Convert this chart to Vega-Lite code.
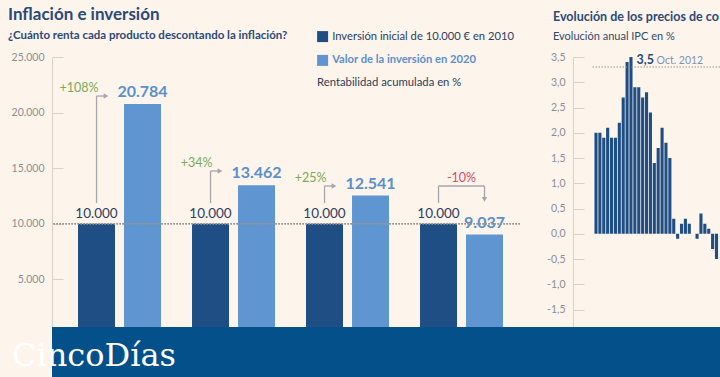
{
  "$schema": "https://vega.github.io/schema/vega-lite/v6.json",
  "background": "#fdf4ec",
  "padding": {"left": 0, "top": 6, "right": 0, "bottom": 0},
  "spacing": 0,
  "config": {
    "font": "Lato",
    "view": {"stroke": null},
    "locale": {"number": {"decimal": ",", "thousands": ".", "grouping": [3], "currency": ["", " €"], "minus": "-"}},
    "axis": {"labelFont": "Lato", "titleFont": "Lato"},
    "title": {"font": "Lato", "subtitleFont": "Lato"},
    "legend": {"labelFont": "Lato", "titleFont": "Lato"},
    "style": {"group-title": {"ellipsis": "\u200b"}}
  },
  "datasets": {
    "inversion": [
      {"producto": "Producto 1", "serie": "Inversión inicial de 10.000 € en 2010", "valor": 10000},
      {"producto": "Producto 1", "serie": "Valor de la inversión en 2020", "valor": 20784},
      {"producto": "Producto 2", "serie": "Inversión inicial de 10.000 € en 2010", "valor": 10000},
      {"producto": "Producto 2", "serie": "Valor de la inversión en 2020", "valor": 13462},
      {"producto": "Producto 3", "serie": "Inversión inicial de 10.000 € en 2010", "valor": 10000},
      {"producto": "Producto 3", "serie": "Valor de la inversión en 2020", "valor": 12541},
      {"producto": "Producto 4", "serie": "Inversión inicial de 10.000 € en 2010", "valor": 10000},
      {"producto": "Producto 4", "serie": "Valor de la inversión en 2020", "valor": 9037}
    ],
    "rentabilidad": [
      {"producto": "Producto 1", "rentabilidad": 1.08, "desde": 11870, "nivel": 21490},
      {"producto": "Producto 2", "rentabilidad": 0.34, "desde": 11870, "nivel": 14750},
      {"producto": "Producto 3", "rentabilidad": 0.25, "desde": 11870, "nivel": 13400},
      {"producto": "Producto 4", "rentabilidad": -0.10, "desde": 11870, "nivel": 13400, "hasta": 12200}
    ],
    "ipc": [
      {"mes": "2012-01", "ipc": 2.0}, {"mes": "2012-02", "ipc": 2.0}, {"mes": "2012-03", "ipc": 1.9},
      {"mes": "2012-04", "ipc": 2.1}, {"mes": "2012-05", "ipc": 1.9}, {"mes": "2012-06", "ipc": 1.9},
      {"mes": "2012-07", "ipc": 2.2}, {"mes": "2012-08", "ipc": 2.7}, {"mes": "2012-09", "ipc": 3.4},
      {"mes": "2012-10", "ipc": 3.5}, {"mes": "2012-11", "ipc": 2.9}, {"mes": "2012-12", "ipc": 2.9},
      {"mes": "2013-01", "ipc": 2.7}, {"mes": "2013-02", "ipc": 2.8}, {"mes": "2013-03", "ipc": 2.4},
      {"mes": "2013-04", "ipc": 1.4}, {"mes": "2013-05", "ipc": 1.7}, {"mes": "2013-06", "ipc": 2.1},
      {"mes": "2013-07", "ipc": 1.8}, {"mes": "2013-08", "ipc": 1.5}, {"mes": "2013-09", "ipc": 0.3},
      {"mes": "2013-10", "ipc": -0.1}, {"mes": "2013-11", "ipc": 0.2}, {"mes": "2013-12", "ipc": 0.3},
      {"mes": "2014-01", "ipc": 0.2}, {"mes": "2014-02", "ipc": 0.0}, {"mes": "2014-03", "ipc": -0.1},
      {"mes": "2014-04", "ipc": 0.4}, {"mes": "2014-05", "ipc": 0.2}, {"mes": "2014-06", "ipc": 0.1},
      {"mes": "2014-07", "ipc": -0.3}, {"mes": "2014-08", "ipc": -0.5}
    ]
  },
  "vconcat": [
    {
      "bounds": "flush",
      "spacing": 72.5,
      "hconcat": [
        {
          "width": 468,
          "height": 270,
          "title": {
            "text": "Inflación e inversión",
            "subtitle": "¿Cuánto renta cada producto descontando la inflación?",
            "anchor": "start", "frame": "group", "dx": -44, "offset": 10,
            "fontSize": 17, "fontWeight": "bold", "color": "#2b4a77",
            "subtitleFontSize": 11.5, "subtitleFontWeight": "bold", "subtitleColor": "#2b4a77", "subtitlePadding": 5.5
          },
          "layer": [
            {
              "data": {"name": "inversion"},
              "mark": {"type": "bar", "clip": true},
              "encoding": {
                "x": {"field": "producto", "type": "nominal", "axis": null,
                      "scale": {"domain": ["Producto 1", "Producto 2", "Producto 3", "Producto 4"], "paddingInner": 0.272, "paddingOuter": 0.1886, "align": 0.605}},
                "xOffset": {"field": "serie", "type": "nominal",
                      "scale": {"domain": ["Inversión inicial de 10.000 € en 2010", "Valor de la inversión en 2020"], "paddingInner": 0.196, "paddingOuter": 0}},
                "y": {"field": "valor", "type": "quantitative",
                      "scale": {"domain": [720, 25000], "nice": false, "zero": false},
                      "axis": {"values": [5000, 10000, 15000, 20000, 25000], "tickCount": 20, "format": ",d", "grid": false, "labelOverlap": false,
                               "domainColor": "#d8d2cb", "tickColor": "#d8d2cb", "tickSize": -11, "labelPadding": 19,
                               "labelColor": "#8d8f96", "labelFontSize": 10.5,
                               "title": ".", "titleOpacity": 0, "titleAngle": 0, "titleAlign": "left", "titleBaseline": "top",
                               "titleX": -52, "titleY": 100, "titleFontSize": 4}},
                "color": {"field": "serie", "type": "nominal",
                      "scale": {"domain": ["Inversión inicial de 10.000 € en 2010", "Valor de la inversión en 2020"], "range": ["#1f4e85", "#5f96d1"]},
                      "legend": {"orient": "none", "legendX": 265, "legendY": -26, "padding": 0,
                                 "title": "Rentabilidad acumulada en %", "titleOrient": "bottom", "titleAnchor": "start",
                                 "titleFontWeight": "normal", "titleFontSize": 11.3, "titleColor": "#2f3d57", "titlePadding": 10.5,
                                 "symbolType": "square", "symbolSize": 121, "symbolStrokeWidth": 0,
                                 "labelFontSize": 11.2, "labelLimit": 300, "labelOffset": 4, "rowPadding": 10.8,
                                 "labelColor": {"expr": "datum.value == 'Valor de la inversión en 2020' ? '#5a90cc' : '#2a3f63'"},
                                 "labelFontWeight": {"expr": "datum.value == 'Valor de la inversión en 2020' ? 'bold' : 'normal'"}}}
              }
            },
            {
              "data": {"name": "inversion"},
              "transform": [{"filter": "datum.serie == 'Inversión inicial de 10.000 € en 2010'"}],
              "mark": {"type": "text", "baseline": "alphabetic", "dy": -6, "fontSize": 13.5, "color": "#2d3f5f"},
              "encoding": {
                "x": {"field": "producto", "type": "nominal"},
                "xOffset": {"field": "serie", "type": "nominal"},
                "y": {"field": "valor", "type": "quantitative"},
                "text": {"field": "valor", "type": "quantitative", "format": ",d"}
              }
            },
            {
              "data": {"name": "inversion"},
              "transform": [{"filter": "datum.serie == 'Valor de la inversión en 2020'"}],
              "mark": {"type": "text", "baseline": "alphabetic", "dy": -7, "fontSize": 16, "fontWeight": "bold", "color": "#5a90cc"},
              "encoding": {
                "x": {"field": "producto", "type": "nominal"},
                "xOffset": {"field": "serie", "type": "nominal"},
                "y": {"field": "valor", "type": "quantitative"},
                "text": {"field": "valor", "type": "quantitative", "format": ",d"}
              }
            },
            {
              "data": {"name": "inversion"},
              "transform": [{"filter": "datum.serie == 'Inversión inicial de 10.000 € en 2010'"}],
              "mark": {"type": "rule", "strokeDash": [1.5, 1.5], "color": "#9b958f", "strokeWidth": 1},
              "encoding": {"y": {"field": "valor", "type": "quantitative"}}
            },
            {
              "data": {"name": "rentabilidad"},
              "mark": {"type": "rule", "color": "#a8a4ae", "strokeWidth": 1.3},
              "encoding": {
                "x": {"field": "producto", "type": "nominal", "bandPosition": 0.223},
                "y": {"field": "desde", "type": "quantitative"},
                "y2": {"field": "nivel"}
              }
            },
            {
              "data": {"name": "rentabilidad"},
              "transform": [{"filter": "datum.rentabilidad > 0"}],
              "mark": {"type": "rule", "color": "#a8a4ae", "strokeWidth": 1.3},
              "encoding": {
                "x": {"field": "producto", "type": "nominal", "bandPosition": 0.223},
                "x2": {"field": "producto", "bandPosition": 0.337},
                "y": {"field": "nivel", "type": "quantitative"}
              }
            },
            {
              "data": {"name": "rentabilidad"},
              "transform": [{"filter": "datum.rentabilidad > 0"}],
              "mark": {"type": "point", "shape": "triangle-right", "filled": true, "size": 30, "opacity": 1, "color": "#a8a4ae"},
              "encoding": {
                "x": {"field": "producto", "type": "nominal", "bandPosition": 0.337},
                "y": {"field": "nivel", "type": "quantitative"}
              }
            },
            {
              "data": {"name": "rentabilidad"},
              "transform": [{"filter": "datum.rentabilidad < 0"}],
              "mark": {"type": "rule", "color": "#a8a4ae", "strokeWidth": 1.3},
              "encoding": {
                "x": {"field": "producto", "type": "nominal", "bandPosition": 0.223},
                "x2": {"field": "producto", "bandPosition": 0.777},
                "y": {"field": "nivel", "type": "quantitative"}
              }
            },
            {
              "data": {"name": "rentabilidad"},
              "transform": [{"filter": "datum.rentabilidad < 0"}],
              "mark": {"type": "rule", "color": "#a8a4ae", "strokeWidth": 1.3},
              "encoding": {
                "x": {"field": "producto", "type": "nominal", "bandPosition": 0.777},
                "y": {"field": "nivel", "type": "quantitative"},
                "y2": {"field": "hasta"}
              }
            },
            {
              "data": {"name": "rentabilidad"},
              "transform": [{"filter": "datum.rentabilidad < 0"}],
              "mark": {"type": "point", "shape": "triangle-down", "filled": true, "size": 30, "opacity": 1, "color": "#a8a4ae"},
              "encoding": {
                "x": {"field": "producto", "type": "nominal", "bandPosition": 0.777},
                "y": {"field": "hasta", "type": "quantitative"}
              }
            },
            {
              "data": {"name": "rentabilidad"},
              "transform": [{"filter": "datum.rentabilidad > 0"}],
              "mark": {"type": "text", "align": "right", "baseline": "alphabetic", "dy": -4, "fontSize": 12.5, "color": "#7aaa58"},
              "encoding": {
                "x": {"field": "producto", "type": "nominal", "bandPosition": 0.247},
                "y": {"field": "nivel", "type": "quantitative"},
                "text": {"field": "rentabilidad", "type": "quantitative", "format": "+.0%"}
              }
            },
            {
              "data": {"name": "rentabilidad"},
              "transform": [{"filter": "datum.rentabilidad < 0"}],
              "mark": {"type": "text", "align": "center", "baseline": "alphabetic", "dy": -4, "fontSize": 12.5, "color": "#dc4b5f"},
              "encoding": {
                "x": {"field": "producto", "type": "nominal", "bandPosition": 0.5},
                "y": {"field": "nivel", "type": "quantitative"},
                "text": {"field": "rentabilidad", "type": "quantitative", "format": "+.0%"}
              }
            }
          ]
        },
        {
          "width": 127.5,
          "height": 270,
          "title": {
            "text": "Evolución de los precios de consumo",
            "subtitle": "Evolución anual IPC en %",
            "anchor": "start", "frame": "group", "dx": -39.5, "offset": 10, "limit": 168,
            "fontSize": 12.5, "fontWeight": "bold", "color": "#2b4a77",
            "subtitleFontSize": 11, "subtitleFontWeight": "normal", "subtitleColor": "#34496b", "subtitlePadding": 8
          },
          "data": {"name": "ipc"},
          "layer": [
            {
              "mark": {"type": "bar", "color": "#1f4e85", "clip": true},
              "encoding": {
                "x": {"field": "mes", "type": "ordinal", "axis": null,
                      "scale": {"paddingInner": 0.2, "paddingOuter": 0.5, "align": 0.5}},
                "y": {"field": "ipc", "type": "quantitative",
                      "scale": {"domain": [-1.845, 3.5], "nice": false, "zero": false},
                      "axis": {"values": [-1.5, -1, -0.5, 0, 0.5, 1, 1.5, 2, 2.5, 3, 3.5], "tickCount": 30, "format": ".1f", "grid": false, "title": null,
                               "labelOverlap": false, "offset": 19.5,
                               "domainColor": "#d8d2cb", "tickColor": "#d8d2cb", "tickSize": -11, "labelPadding": 19,
                               "labelColor": "#8d8f96", "labelFontSize": 10.5}}
              }
            },
            {
              "transform": [{"filter": "datum.mes == '2012-10'"}],
              "mark": {"type": "rule", "strokeDash": [1.5, 1.5], "color": "#9b958f", "strokeWidth": 1, "yOffset": 10},
              "encoding": {
                "y": {"field": "ipc", "type": "quantitative"}
              }
            },
            {
              "transform": [{"filter": "datum.mes == '2012-10'"}],
              "mark": {"type": "text", "align": "left", "baseline": "alphabetic", "dx": 4, "dy": 6.5, "fontSize": 12.5, "fontWeight": "bold", "color": "#2b4a77"},
              "encoding": {
                "x": {"field": "mes", "type": "ordinal", "bandPosition": 1},
                "y": {"field": "ipc", "type": "quantitative"},
                "text": {"field": "ipc", "type": "quantitative", "format": ".1f"}
              }
            },
            {
              "transform": [{"filter": "datum.mes == '2012-10'"}],
              "mark": {"type": "text", "align": "left", "baseline": "alphabetic", "dx": 24, "dy": 6.5, "fontSize": 10.5, "color": "#7b93b5"},
              "encoding": {
                "x": {"field": "mes", "type": "ordinal", "bandPosition": 1},
                "y": {"field": "ipc", "type": "quantitative"},
                "text": {"value": "Oct. 2012"}
              }
            }
          ]
        }
      ]
    },
    {
      "width": 720,
      "height": 50,
      "data": {"values": [{}]},
      "mark": {"type": "rect", "color": "#03508b", "xOffset": -52, "x2Offset": -52},
      "encoding": {},
      "title": {
        "text": "CincoDías", "anchor": "start", "frame": "group", "orient": "top",
        "offset": -71, "dx": -40, "baseline": "alphabetic",
        "font": "DejaVu Serif", "fontSize": 32, "fontWeight": "normal", "color": "#ffffff", "zindex": 1
      }
    }
  ]
}
